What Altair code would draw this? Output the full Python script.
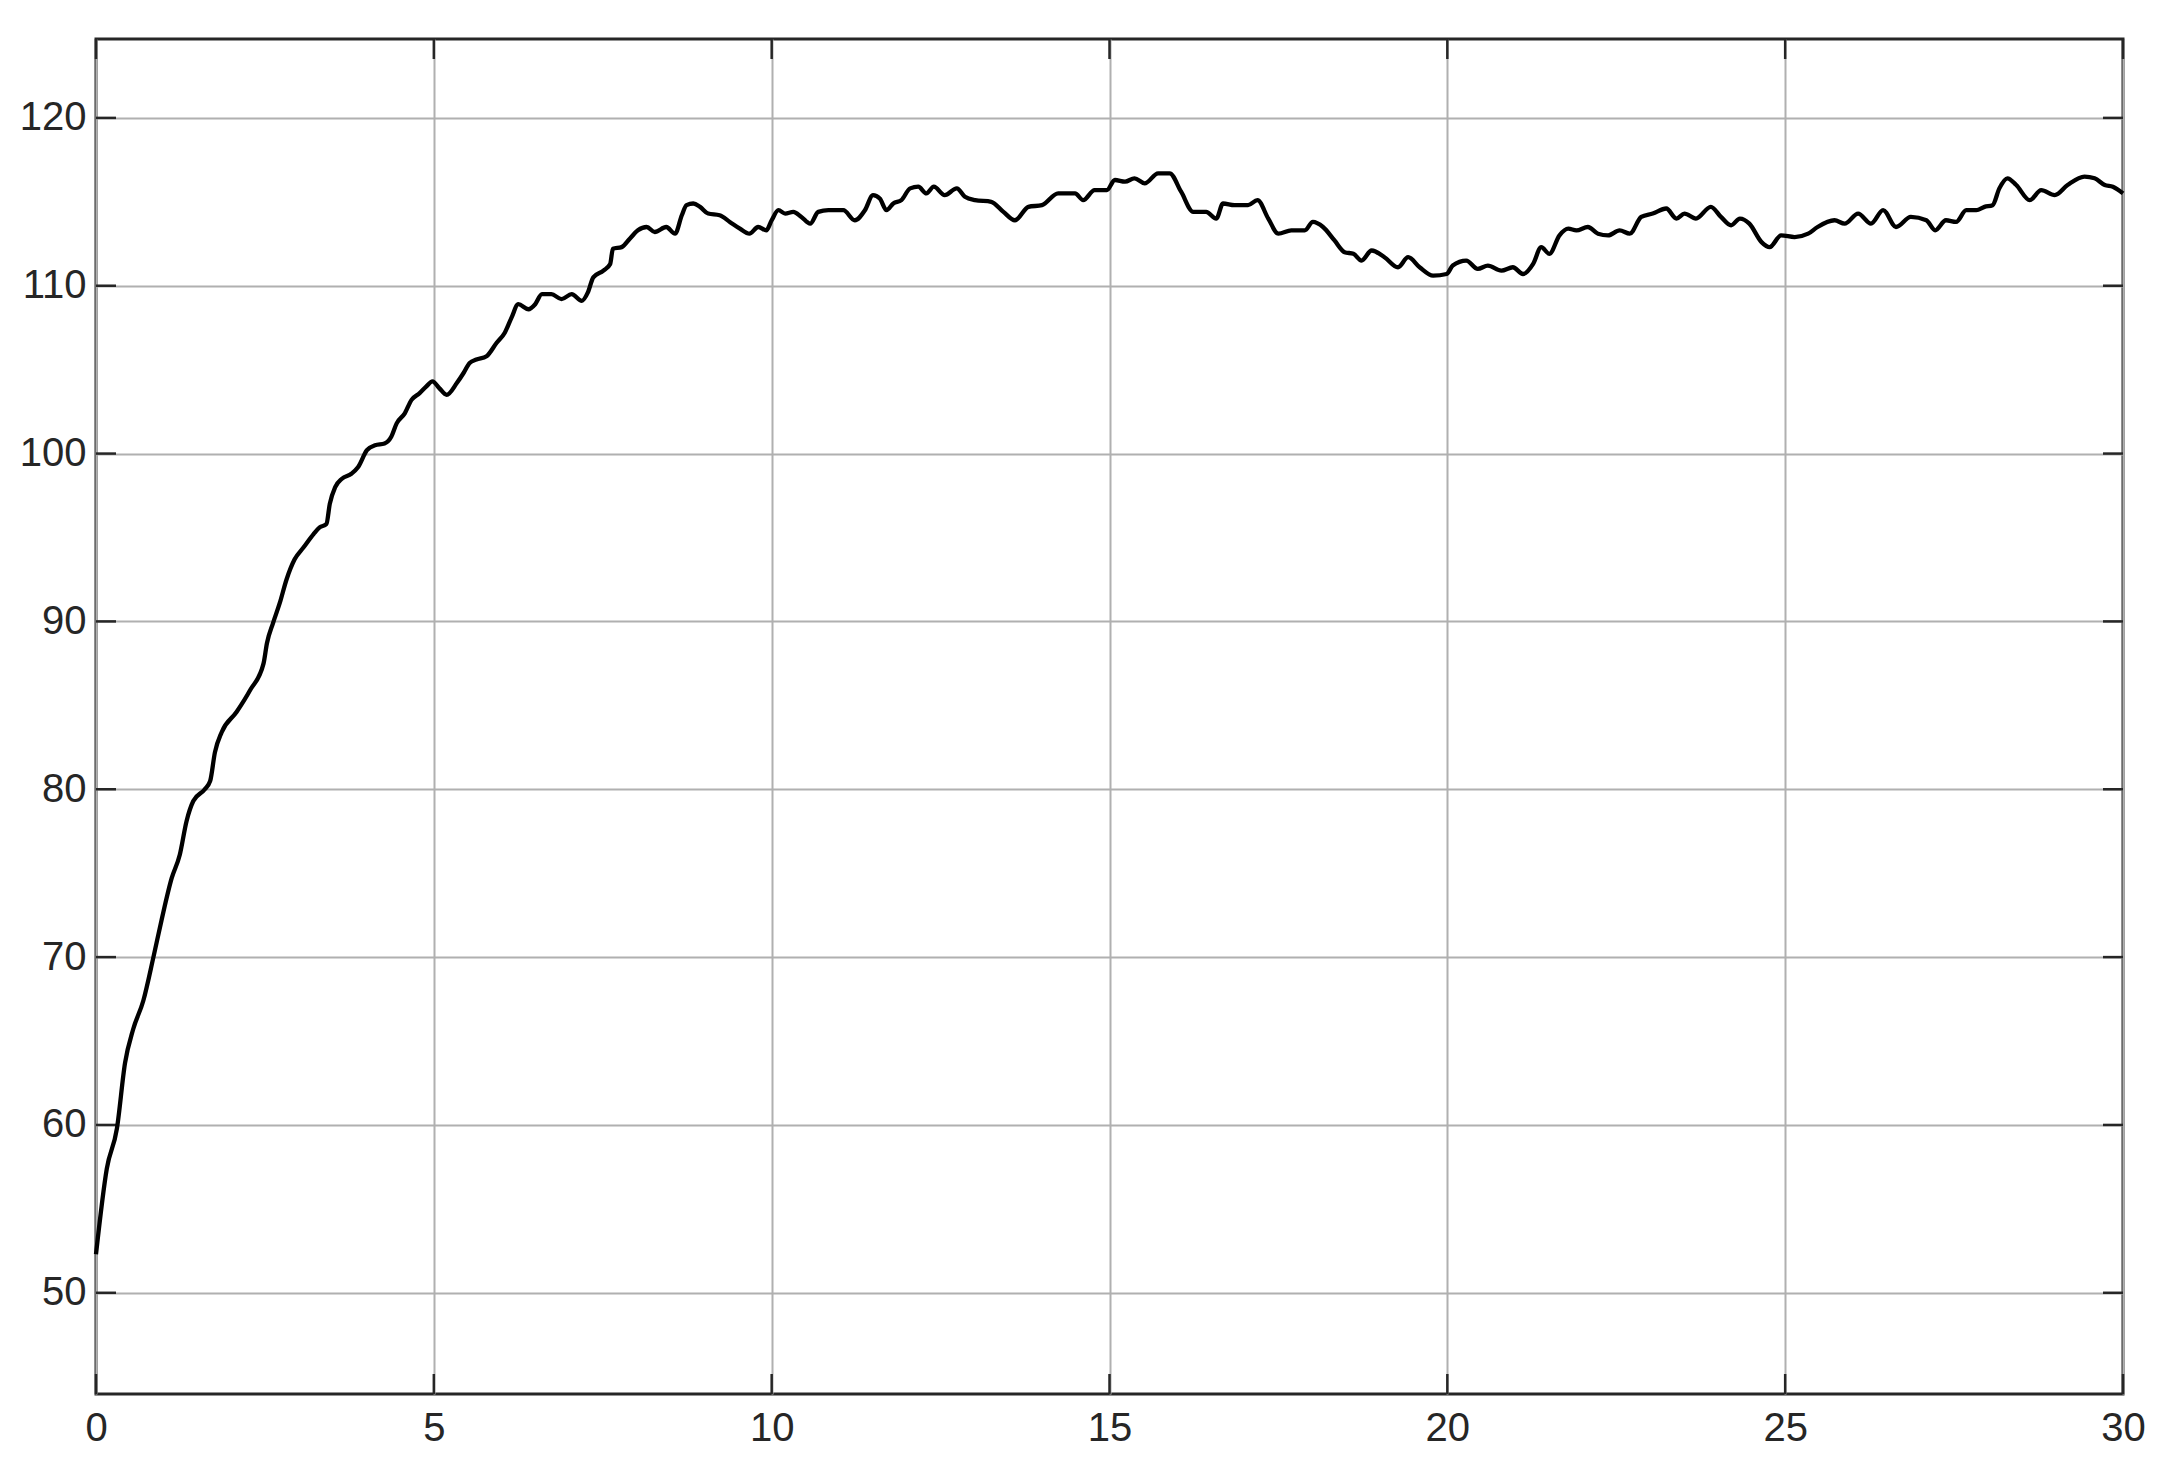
import altair as alt
import pandas as pd

# Rising phase
t_rise = [0.00, 0.16, 0.31, 0.43, 0.55, 0.70, 0.85, 0.97, 1.12, 1.24, 1.34, 1.44,
          1.61, 1.69, 1.76, 1.86, 2.08, 2.28, 2.48, 2.53, 2.62, 2.72, 2.82, 2.94,
          3.07, 3.22, 3.31, 3.41, 3.46, 3.54, 3.64, 3.78, 3.88, 4.01, 4.13, 4.27,
          4.37, 4.45, 4.57, 4.67, 4.79, 4.89, 4.98]
v_rise = [52.3, 57.4, 59.8, 63.7, 65.7, 67.4, 70.0, 72.2, 74.7, 76.1, 78.1, 79.3,
          80.0, 80.5, 82.2, 83.4, 84.6, 85.9, 87.5, 88.7, 89.9, 91.1, 92.5, 93.7,
          94.4, 95.2, 95.6, 95.8, 97.0, 98.0, 98.5, 98.8, 99.2, 100.2, 100.5, 100.6,
          101.0, 101.8, 102.4, 103.2, 103.6, 104.0, 104.3]

# Approach phase
t_mid = [5.08, 5.19, 5.34, 5.44, 5.53, 5.63, 5.78, 5.93, 6.05, 6.15, 6.25, 6.40,
         6.50, 6.60, 6.74, 6.89, 7.04, 7.19, 7.28, 7.36, 7.51, 7.61, 7.65, 7.78,
         7.90, 8.02, 8.15, 8.27, 8.44, 8.57, 8.67, 8.74, 8.84, 8.94, 9.06, 9.23,
         9.38, 9.53, 9.67, 9.80, 9.92]
v_mid = [103.9, 103.5, 104.2, 104.8, 105.4, 105.6, 105.8, 106.6, 107.2, 108.1, 108.9, 108.6,
         108.9, 109.5, 109.5, 109.2, 109.5, 109.1, 109.6, 110.5, 110.9, 111.3, 112.2, 112.3,
         112.8, 113.3, 113.5, 113.2, 113.5, 113.1, 114.2, 114.8, 114.9, 114.7, 114.3, 114.2,
         113.8, 113.4, 113.1, 113.5, 113.3]

# Plateau 10-20
t_plat1 = [10.00, 10.10, 10.20, 10.32, 10.44, 10.57, 10.69, 10.84, 11.06, 11.23, 11.38, 11.50,
           11.60, 11.70, 11.80, 11.92, 12.05, 12.17, 12.29, 12.40, 12.56, 12.74, 12.86, 13.01,
           13.25, 13.43, 13.60, 13.80, 14.00, 14.24, 14.49, 14.61, 14.78, 14.96,
           15.08, 15.23, 15.37, 15.52, 15.72, 15.89, 16.06, 16.24, 16.43, 16.58, 16.68, 16.85,
           17.05, 17.19, 17.35, 17.50, 17.69, 17.89, 18.01, 18.16, 18.33, 18.48, 18.61, 18.73,
           18.88, 19.07, 19.27, 19.42, 19.59, 19.79, 19.99]
v_plat1 = [113.9, 114.5, 114.3, 114.4, 114.1, 113.7, 114.4, 114.5, 114.5, 113.9, 114.5, 115.4,
           115.2, 114.5, 114.9, 115.1, 115.8, 115.9, 115.5, 115.9, 115.4, 115.8, 115.3, 115.1,
           115.0, 114.4, 113.9, 114.7, 114.8, 115.5, 115.5, 115.1, 115.7, 115.7,
           116.3, 116.2, 116.4, 116.1, 116.7, 116.7, 115.6, 114.4, 114.4, 114.0, 114.9, 114.8,
           114.8, 115.1, 114.0, 113.1, 113.3, 113.3, 113.8, 113.5, 112.7, 112.0, 111.9, 111.5,
           112.1, 111.7, 111.1, 111.7, 111.1, 110.6, 110.7]

# Plateau 20-30
t_plat2 = [20.08, 20.28, 20.45, 20.60, 20.80, 20.97, 21.12, 21.27, 21.39, 21.51, 21.66, 21.79,
           21.91, 22.08, 22.23, 22.38, 22.55, 22.70, 22.87, 23.04, 23.24, 23.39, 23.51, 23.68,
           23.90, 24.05, 24.20, 24.33, 24.47, 24.65, 24.77, 24.94,
           25.14, 25.34, 25.48, 25.73, 25.88, 26.08, 26.27, 26.45, 26.64, 26.86, 27.09, 27.22,
           27.38, 27.53, 27.68, 27.83, 27.95, 28.07, 28.17, 28.29, 28.42, 28.62, 28.79, 28.99,
           29.18, 29.43, 29.58, 29.73, 29.85, 30.00]
v_plat2 = [111.2, 111.5, 111.0, 111.2, 110.9, 111.1, 110.7, 111.3, 112.3, 111.9, 113.0, 113.4,
           113.3, 113.5, 113.1, 113.0, 113.3, 113.1, 114.1, 114.3, 114.6, 114.0, 114.3, 114.0,
           114.7, 114.1, 113.6, 114.0, 113.7, 112.6, 112.3, 113.0,
           112.9, 113.1, 113.5, 113.9, 113.7, 114.3, 113.7, 114.5, 113.5, 114.1, 113.9, 113.3,
           113.9, 113.8, 114.5, 114.5, 114.7, 114.8, 115.8, 116.4, 116.0, 115.1, 115.7, 115.4,
           116.0, 116.5, 116.4, 116.0, 115.9, 115.5]

x_ticks = [0, 5, 10, 15, 20, 25, 30]
y_ticks = [50, 60, 70, 80, 90, 100, 110, 120]

W, H = 2027, 1355
TICK = 20
FONT = "Liberation Sans, Arial, Helvetica, sans-serif"

series = pd.DataFrame({
    "x": t_rise + t_mid + t_plat1 + t_plat2,
    "y": v_rise + v_mid + v_plat1 + v_plat2,
})
xt = pd.DataFrame({"x": x_ticks})
yt = pd.DataFrame({"y": y_ticks})

xscale = alt.Scale(domain=[0, 30], nice=False, zero=False)
yscale = alt.Scale(domain=[43.97, 124.7], nice=False, zero=False)

axis_common = dict(grid=True, gridColor="#b0b0b0", gridWidth=2, ticks=False, domain=False,
                   labelFontSize=40, labelFont=FONT, labelColor="#262626", title=None,
                   labelFlush=False, labelOverlap=False)
xaxis = alt.Axis(values=x_ticks, labelPadding=14, **axis_common)
yaxis = alt.Axis(values=y_ticks, labelPadding=10, **axis_common)


def X(field):
    return alt.X(f"{field}:Q", scale=xscale, axis=xaxis, title=None)


def Y(field):
    return alt.Y(f"{field}:Q", scale=yscale, axis=yaxis, title=None)


line = alt.Chart(series).mark_line(color="#000000", strokeWidth=4.3, interpolate="monotone").encode(
    x=X("x"), y=Y("y")
)

tick_style = dict(color="#262626", strokeWidth=2.5)
xt_bottom = alt.Chart(xt).mark_rule(**tick_style).encode(
    x=X("x"), y=alt.value(H), y2=alt.value(H - TICK))
xt_top = alt.Chart(xt).mark_rule(**tick_style).encode(
    x=X("x"), y=alt.value(0), y2=alt.value(TICK))
yt_left = alt.Chart(yt).mark_rule(**tick_style).encode(
    y=Y("y"), x=alt.value(0), x2=alt.value(TICK))
yt_right = alt.Chart(yt).mark_rule(**tick_style).encode(
    y=Y("y"), x=alt.value(W), x2=alt.value(W - TICK))

chart = alt.layer(xt_bottom, xt_top, yt_left, yt_right, line).properties(
    width=W, height=H,
    autosize=alt.AutoSizeParams(type="none"),
    padding={"left": 88, "top": 31, "right": 40, "bottom": 80},
    background="#ffffff",
).configure_view(stroke="#262626", strokeWidth=3)

chart.save("out.html", embed_options={"renderer": "svg", "actions": False})
